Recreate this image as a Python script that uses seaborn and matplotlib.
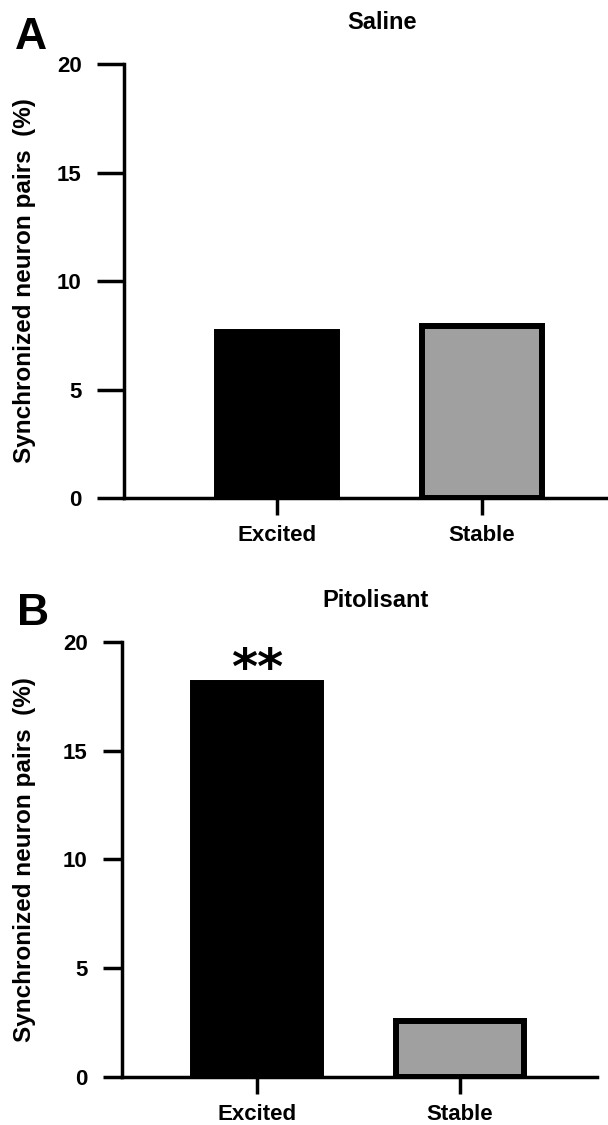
import matplotlib
matplotlib.use('Agg')
import matplotlib.pyplot as plt
import seaborn as sns
import pandas as pd

# values
groups = ['Excited', 'Stable']
saline = [7.65, 7.95]
pitolisant = [18.1, 2.57]
bar_colors = ['black', '#a0a0a0']
yticks = [0, 5, 10, 15, 20]

sns.set_style('ticks', {'axes.edgecolor': 'black', 'xtick.color': 'black',
                        'ytick.color': 'black', 'text.color': 'black',
                        'axes.labelcolor': 'black'})
plt.rcParams['font.family'] = ['Liberation Sans', 'DejaVu Sans']
plt.rcParams['font.weight'] = 'bold'

fig = plt.figure(figsize=(6.08, 11.25), dpi=100)
axA = fig.add_axes([0.2039, 0.5573, 0.796, 0.3858])
axB = fig.add_axes([0.2007, 0.04267, 0.7812, 0.3867])


def panel(ax, vals, width, xlim, ylen):
    df = pd.DataFrame({'group': groups, 'pct': vals})
    sns.barplot(data=df, x='group', y='pct', hue='group', palette=bar_colors,
                width=width, edgecolor='black', linewidth=4.3, saturation=1,
                legend=False, ax=ax)
    ax.set_xlim(*xlim)
    ax.set_ylim(0, 20)
    ax.set_yticks(yticks)
    ax.set_xlabel('')
    ax.set_ylabel('Synchronized neuron pairs  (%)', fontsize=17.5, fontweight='bold')
    ax.yaxis.set_label_coords(-0.181, 0.5)
    for s in ['top', 'right']:
        ax.spines[s].set_visible(False)
    for s in ['left', 'bottom']:
        ax.spines[s].set_linewidth(2.5)
    ax.tick_params(axis='y', length=ylen, width=2.5, labelsize=16, pad=11)
    ax.tick_params(axis='x', length=12.5, width=2.5, labelsize=16, pad=7)
    for t in ax.get_xticklabels() + ax.get_yticklabels():
        t.set_fontweight('bold')


panel(axA, saline, 0.585, (-0.746, 1.615), 19.4)
panel(axB, pitolisant, 0.63, (-0.665, 1.675), 13.7)

axB.text(0, 18.05, '**', ha='center', va='baseline', fontsize=36,
         fontweight='bold', family=['DejaVu Sans'])

fig.text(382 / 608, 1 - 29 / 1125, 'Saline', ha='center', va='baseline',
         fontsize=17, fontweight='bold')
fig.text(376 / 608, 1 - 607 / 1125, 'Pitolisant', ha='center', va='baseline',
         fontsize=17, fontweight='bold')
fig.text(15 / 608, 1 - 49 / 1125, 'A', ha='left', va='baseline',
         fontsize=32, fontweight='bold')
fig.text(17 / 608, 1 - 625 / 1125, 'B', ha='left', va='baseline',
         fontsize=32, fontweight='bold')

fig.savefig('out.png', dpi=100)
